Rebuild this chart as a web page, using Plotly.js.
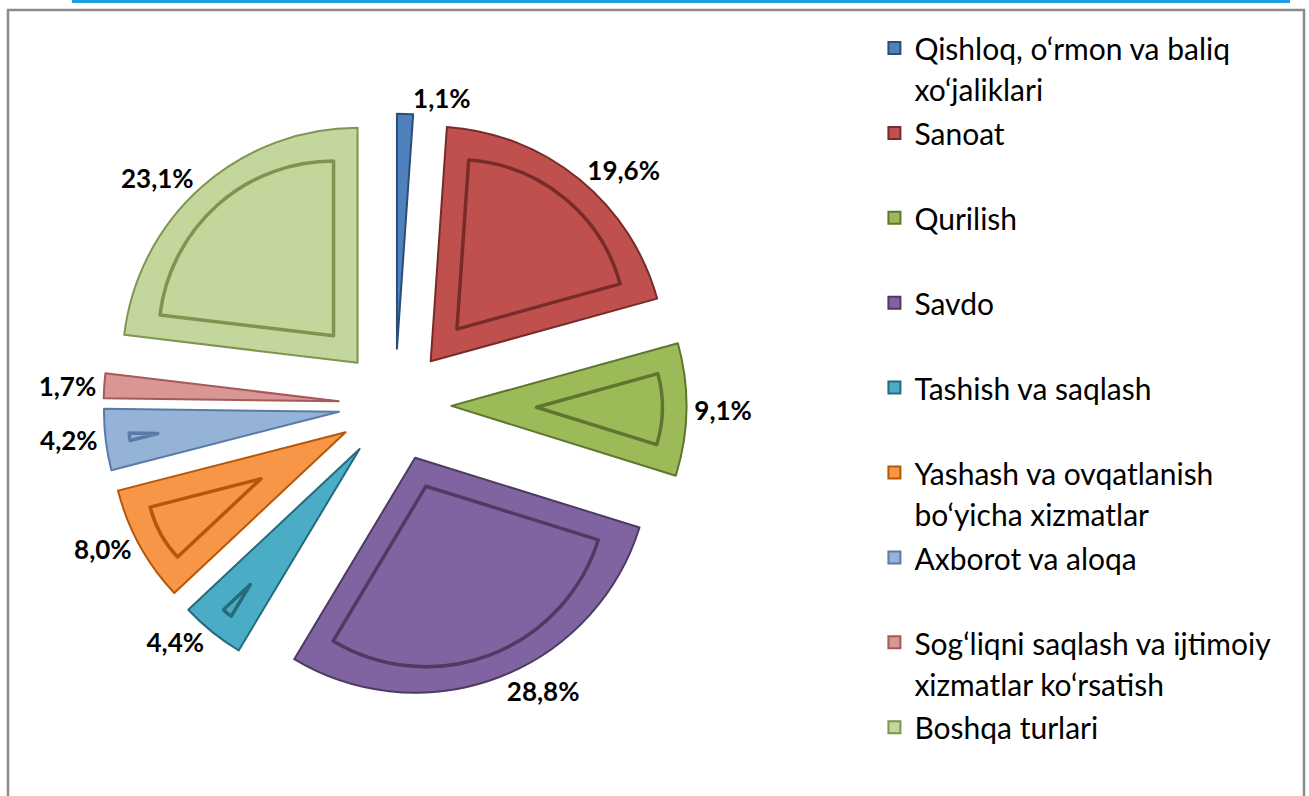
<!DOCTYPE html>
<html>
<head>
<meta charset="utf-8">
<script src="https://cdn.plot.ly/plotly-3.0.1.min.js"></script>
<style>
  html, body { margin: 0; padding: 0; background: #ffffff; }
  #chart { width: 1309px; height: 796px; }
</style>
</head>
<body>
<div id="chart"></div>
<script>
// ---- data ----
const categories = [
  "Qishloq, o‘rmon va baliq<br>xo‘jaliklari",
  "Sanoat",
  "Qurilish",
  "Savdo",
  "Tashish va saqlash",
  "Yashash va ovqatlanish<br>bo‘yicha xizmatlar",
  "Axborot va aloqa",
  "Sog‘liqni saqlash va ijtimoiy<br>xizmatlar ko‘rsatish",
  "Boshqa turlari"
];
const shares = [1.1, 19.6, 9.1, 28.8, 4.4, 8.0, 4.2, 1.7, 23.1];

// ---- styles ----
const sliceColors = ["#4F81BD", "#C0504D", "#9BBB59", "#8064A2", "#4BACC6",
                     "#F79646", "#95B3D7", "#D99694", "#C3D69B"];
const edgeColors  = ["#2C4D75", "#772C2A", "#5F7530", "#4D3B62", "#276A7C",
                     "#B65708", "#5A7BA6", "#A65A58", "#7F9450"];

// legend: each entry takes two lines so entries are evenly spaced
const legendLabels = categories.map(c => {
  const txt = '<span style="font-size:30px">' +
    c.replace('<br>', '</span><br><span style="font-size:30px">') + '</span>';
  return c.includes('<br>') ? txt : txt + '<br> ';
});

const W = 1309, H = 796;
const cx = 395, cy = 405;      // pie centre in pixels
const R = 235;                 // slice radius in pixels
const P = 0.24;                // explode fraction
const bevel = 24;              // inset of the bevel outline in pixels

function domainFor(half) {
  return {
    x: [(cx - half) / W, (cx + half) / W],
    y: [(H - cy - half) / H, (H - cy + half) / H]
  };
}

const mainTrace = {
  type: 'pie',
  labels: legendLabels,
  values: shares,
  sort: false,
  direction: 'clockwise',
  rotation: 0,
  pull: shares.map(() => P),
  marker: { colors: sliceColors, line: { color: edgeColors, width: 2 } },
  texttemplate: '%{value:.1f}%',
  textposition: 'outside',
  textfont: { family: 'Lato, sans-serif', size: 26, color: '#000000', weight: 'bold' },
  hoverinfo: 'none',
  domain: domainFor(R * (1 + P))
};

// bevel: an inset outline for each slice wide enough to hold one
const bevelTraces = [];
shares.forEach((s, i) => {
  const alpha = Math.PI * s / 100;              // half angle of slice
  const shift = bevel / Math.sin(alpha);        // apex shift of inset shape
  const rIn = R - bevel - shift;
  if (rIn < 25) return;
  const apex = R * P + shift;
  const pullIn = apex / rIn;
  bevelTraces.push({
    type: 'pie',
    labels: legendLabels,
    values: shares,
    sort: false,
    direction: 'clockwise',
    rotation: 0,
    pull: shares.map(() => pullIn),
    marker: {
      colors: shares.map((_, j) => j === i ? sliceColors[i] : 'rgba(0,0,0,0)'),
      line: {
        color: shares.map((_, j) => j === i ? edgeColors[i] : 'rgba(0,0,0,0)'),
        width: shares.map((_, j) => j === i ? 3.5 : 0)
      }
    },
    textinfo: 'none',
    hoverinfo: 'none',
    showlegend: false,
    domain: domainFor(rIn + apex)
  });
});

const layout = {
  width: W, height: H,
  margin: { l: 0, r: 0, t: 0, b: 0 },
  paper_bgcolor: '#ffffff',
  separators: ', ',
  showlegend: true,
  legend: {
    x: 0.668, xanchor: 'left',
    y: 0.955, yanchor: 'top',
    valign: 'top',
    font: { family: 'Lato, sans-serif', size: 31.5, color: '#000000' },
    bgcolor: 'rgba(0,0,0,0)',
    traceorder: 'normal'
  },
  shapes: [
    { type: 'rect', xref: 'paper', yref: 'paper',
      x0: 72 / W, x1: 1290 / W, y0: (H - 3) / H, y1: 1.05,
      fillcolor: '#1A9FE0', line: { width: 0 }, layer: 'below' },
    { type: 'rect', xref: 'paper', yref: 'paper',
      x0: 8 / W, x1: 1304 / W, y0: -0.05, y1: (H - 10) / H,
      fillcolor: 'rgba(0,0,0,0)', line: { color: '#8C8C8C', width: 2.5 }, layer: 'below' }
  ]
};

Plotly.newPlot('chart', [mainTrace].concat(bevelTraces), layout,
  { displayModeBar: false, staticPlot: true });
</script>
</body>
</html>
